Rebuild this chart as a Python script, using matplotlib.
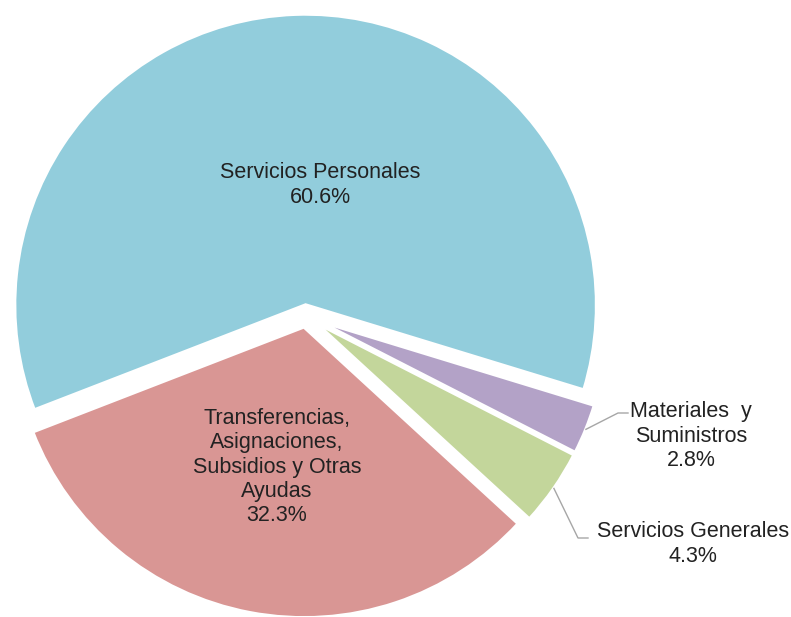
import matplotlib.pyplot as plt
import numpy as np

plt.rcParams['font.family'] = ['Liberation Sans', 'DejaVu Sans']

# datos
categorias = ['Servicios Personales', 'Transferencias,\nAsignaciones,\nSubsidios y Otras\nAyudas',
              'Servicios Generales', 'Materiales  y\nSuministros']
porcentajes = [60.6, 32.3, 4.3, 2.8]
colores = ['#92CDDC', '#D99694', '#C3D69B', '#B3A2C7']

W, H = 791, 617
fig = plt.figure(figsize=(W / 100, H / 100), dpi=100)
ax = fig.add_axes([0, 0, 1, 1])

cx, cy = 306, H - 316
R = 291
exp = 11  # en pixeles (unidades de datos)

wedges, _ = ax.pie(porcentajes, colors=colores, startangle=-17, counterclock=True,
                   center=(cx, cy), radius=R, explode=[exp] * 4,
                   wedgeprops=dict(edgecolor='white', linewidth=2.5))

ax.set_xlim(0, W)
ax.set_ylim(0, H)
ax.set_aspect('equal')
ax.axis('off')

txt = dict(fontsize=15.5, color='#222222', ha='center', va='center', linespacing=1.2)

def etiqueta(i):
    return f'{categorias[i]}\n{porcentajes[i]:.1f}%'

# etiquetas dentro
ax.text(320, H - 185, etiqueta(0), **txt)
ax.text(277, H - 467, etiqueta(1), **txt)

# etiquetas fuera con lineas guia
ax.text(691, H - 436, etiqueta(3), **txt)
ax.text(693, H - 544, etiqueta(2), **txt)

guias = {3: ((618, 413), (628, 413)), 2: ((578, 538), (588, 538))}
for i, (codo, fin) in guias.items():
    w = wedges[i]
    ang = np.deg2rad((w.theta1 + w.theta2) / 2)
    x0 = cx + (R + exp) * np.cos(ang)
    y0 = cy + (R + exp) * np.sin(ang)
    ax.plot([x0, codo[0], fin[0]], [y0, H - codo[1], H - fin[1]],
            color='#a6a6a6', lw=1)

fig.savefig('out.png', dpi=100)
